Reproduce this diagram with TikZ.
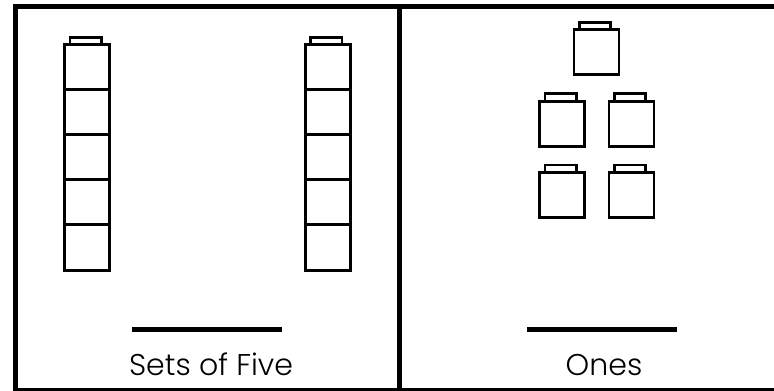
\documentclass[tikz,border=0pt]{standalone}
\usepackage{fontspec}
\setmainfont{Poppins}[UprightFont={* Light}]
\begin{document}
\begin{tikzpicture}[x=1pt,y=-1pt,
  frame/.style={line width=5pt},
  blockline/.style={line width=2.7pt},
  answerline/.style={line width=5pt},
  label/.style={font=\fontsize{30}{30}\selectfont, anchor=base, inner sep=0pt},
  cube/.pic={
    \draw[blockline] (0,0) rectangle (45,45);
    \draw[blockline] (5.3,0) -- (5.3,-7.5) -- (36.8,-7.5) -- (36.8,0);
  },
  tower/.pic={
    \draw[blockline] (0,0) rectangle (45,45);
    \draw[blockline] (0,45) rectangle (45,90);
    \draw[blockline] (0,90) rectangle (45,135);
    \draw[blockline] (0,135) rectangle (45,180);
    \draw[blockline] (0,180) rectangle (45,225.6);
    \draw[blockline] (5.3,0) -- (5.3,-7.5) -- (36.8,-7.5) -- (36.8,0);
  }]
\useasboundingbox (0,0) rectangle (774,391);
% frame
\draw[frame] (15,6.5) -- (780,6.5);
\draw[frame] (15,4) -- (15,395);
\draw[frame] (12.5,390) -- (780,390);
\draw[frame] (399,4) -- (399,395);
% towers
\pic at (64.7,44.7) {tower};
\pic at (305.3,44.7) {tower};
% ones
\pic at (574,29.7) {cube};
\pic at (539.7,101.3) {cube};
\pic at (609,101.3) {cube};
\pic at (539.7,172.5) {cube};
\pic at (609,172.5) {cube};
% answer lines
\coordinate (la) at (132,329);
\coordinate (lb) at (282,329);
\coordinate (ra) at (527,329);
\coordinate (rb) at (677,329);
\draw[answerline] (la) -- (lb);
\draw[answerline] (ra) -- (rb);
% labels
\node[label] (setsoffive) at (211,375) {Sets of Five};
\node[label] (ones) at (604,375) {Ones};
\end{tikzpicture}
\end{document}
